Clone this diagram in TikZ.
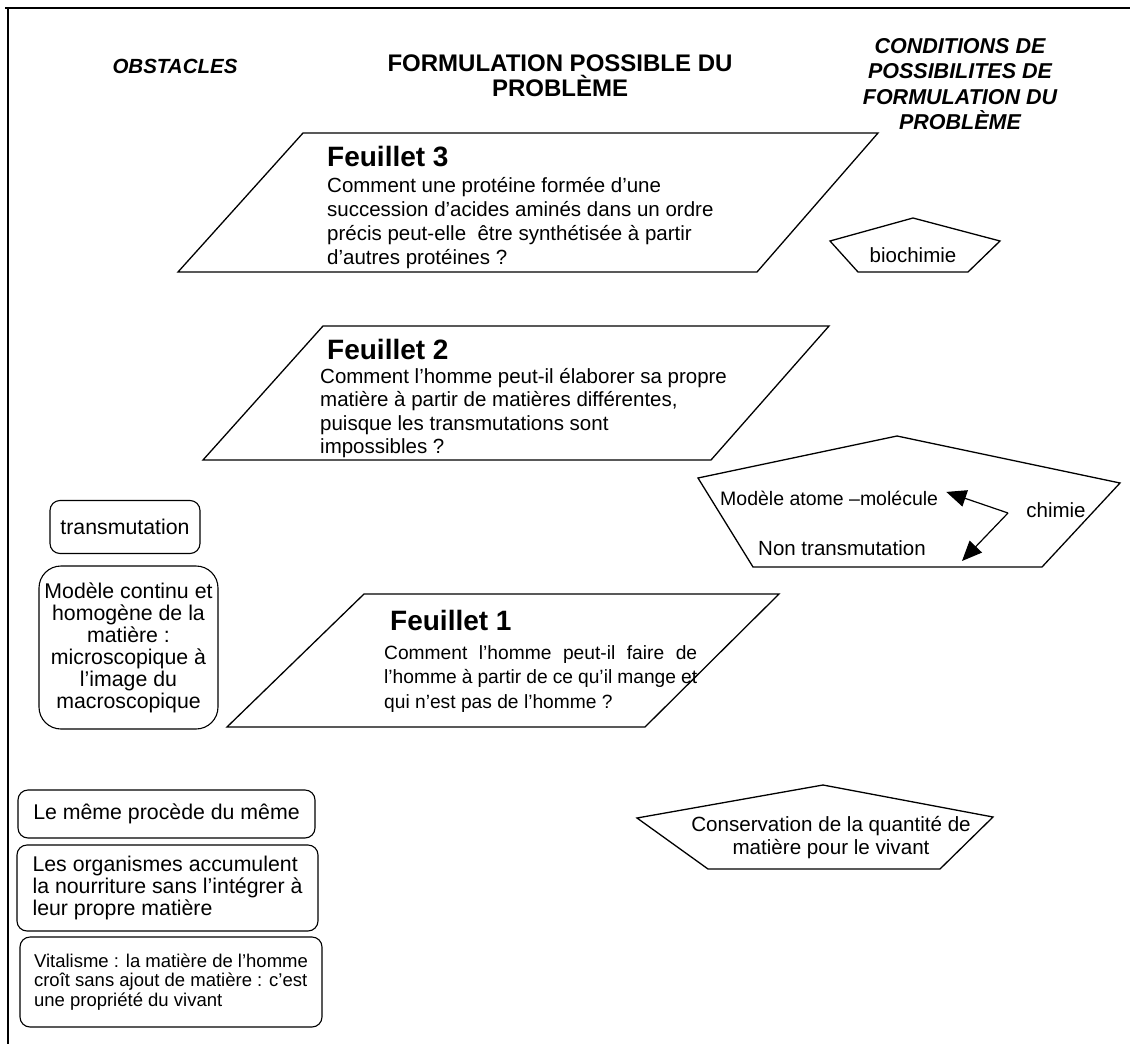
\documentclass[tikz,border=0pt]{standalone}
\usepackage{fontspec}
\setmainfont{Liberation Sans}
\usetikzlibrary{arrows.meta}

\tikzset{
	sheet/.style={draw, line width=1.3pt},
	head/.style={font=\fontsize{24}{25}\selectfont\bfseries, align=center, inner sep=0pt},
	headit/.style={font=\fontsize{21.5}{25.5}\selectfont\bfseries\itshape, align=center, inner sep=0pt},
	feuil/.style={font=\fontsize{28}{30}\selectfont\bfseries, inner sep=0pt, anchor=base west},
	txt/.style={font=\fontsize{20.5}{24}\selectfont, inner sep=0pt, align=left},
	obst/.style={draw, line width=1.1pt, rounded corners=10pt, inner sep=0pt,
		font=\fontsize{21.3}{22}\selectfont, align=center},
	arr/.style={line width=1.2pt, -{Triangle[length=20pt,width=17pt]}}
}

\begin{document}
\begin{tikzpicture}[x=1pt,y=-1pt]
	\useasboundingbox (0,0) rectangle (1130,1044);
	\draw[line width=2pt] (5,8) -- (1130,8);
	\draw[line width=1.3pt] (8,8) -- (8,1044);
	
	% titres des colonnes
	\node[headit, font=\fontsize{20.5}{25}\selectfont\bfseries\itshape] (obs) at (175,66) {OBSTACLES};
	\node[head] (form) at (560,76) {FORMULATION POSSIBLE DU\\PROBLÈME};
	\node[headit] (cond) at (960,84) {CONDITIONS DE\\POSSIBILITES DE\\FORMULATION DU\\PROBLÈME};
	
	% feuillet 3
	\draw[sheet] (303,133) -- (878,133) -- (757,272) -- (178,272) -- cycle;
	\node[feuil] (f3) at (327,166) {Feuillet 3};
	\node[txt, anchor=north west] (q3) at (327,177) {Comment une protéine formée d’une\\succession d’acides aminés dans un ordre\\précis peut-elle \ être synthétisée à partir\\d’autres protéines ?};
	\draw[sheet] (913,218) -- (1000,241) -- (968,272) -- (858,272) -- (830,241) -- cycle;
	\node[txt] (bio) at (913,255) {biochimie};
	
	% feuillet 2
	\draw[sheet] (323,326) -- (829,326) -- (711,460) -- (203,460) -- cycle;
	\node[feuil] (f2) at (327,359) {Feuillet 2};
	\node[txt, anchor=north west, font=\fontsize{20.5}{23.5}\selectfont] (q2) at (320,368) {Comment l’homme peut-il élaborer sa propre\\matière à partir de matières différentes,\\puisque les transmutations sont\\impossibles ?};
	\draw[sheet] (897,436) -- (1120,483) -- (1042,567) -- (753,567) -- (698,478) -- cycle;
	\node[txt, anchor=base west, font=\fontsize{19.5}{25}\selectfont] (mol) at (720,505) {Modèle atome –molécule};
	\node[txt, anchor=base west] (nt) at (758,555) {Non transmutation};
	\node[txt] (chim) at (1056,510) {chimie};
	\coordinate (kink) at (1008,513);
	\coordinate (tipb) at (962,561);
	\draw[arr] (kink) -- ([xshift=8pt,yshift=6pt]mol.east);
	\draw[arr] (kink) -- (tipb);
	
	% feuillet 1
	\draw[sheet] (364,594) -- (779,594) -- (645,727) -- (227,727) -- cycle;
	\node[feuil] (f1) at (390,630) {Feuillet 1};
	\node[txt, anchor=north west, text width=313pt, align=justify, font=\fontsize{19.2}{24.5}\selectfont] (q1) at (384,645) {Comment l’homme peut-il faire de\linebreak l’homme à partir de ce qu’il mange et\linebreak qui n’est pas de l’homme ?};
	\draw[sheet] (823,785) -- (993,817) -- (940,869) -- (708,869) -- (637,818) -- cycle;
	\node[txt, align=center, font=\fontsize{20.6}{23}\selectfont] (cons) at (831,838) {Conservation de la quantité de\\matière pour le vivant};
	
	% obstacles
	\node[obst, minimum width=150pt, minimum height=53pt] (trans) at (125,527) {transmutation};
	\node[obst, rounded corners=22pt, minimum width=179pt, minimum height=163pt] (cont) at (128.5,647.5) {Modèle continu et\\homogène de la\\matière :\\microscopique à\\l’image du\\macroscopique};
	\node[obst, minimum width=297pt, minimum height=48pt] (meme) at (166.5,814) {Le même procède du même};
	\node[obst, align=left, minimum width=301pt, minimum height=86pt] (orga) at (167.5,888) {Les organismes accumulent\\la nourriture sans l’intégrer à\\leur propre matière};
	\node[obst, align=left, minimum width=302pt, minimum height=90pt, font=\fontsize{18.5}{19.5}\selectfont] (vital) at (171,982) {Vitalisme : la matière de l’homme\\croît sans ajout de matière : c’est\\une propriété du vivant};
\end{tikzpicture}
\end{document}
